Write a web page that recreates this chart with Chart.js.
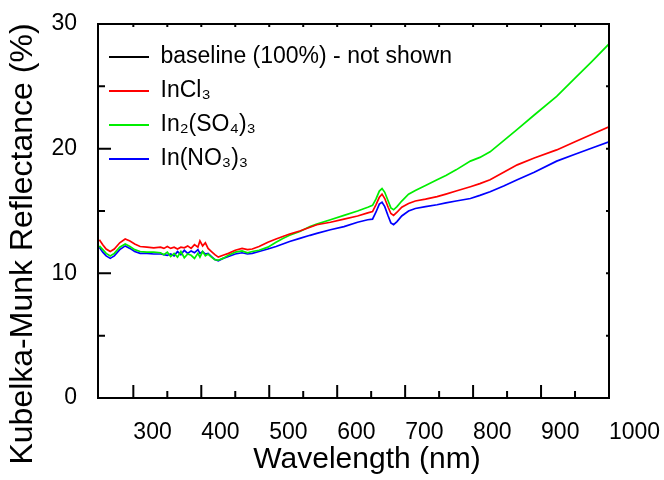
<!DOCTYPE html>
<html>
<head>
<meta charset="utf-8">
<script src="https://cdn.jsdelivr.net/npm/chart.js@4.4.1/dist/chart.umd.min.js"></script>
<style>
  body { margin: 0; background: #fff; }
  #wrap { width: 664px; height: 480px; }
</style>
</head>
<body>
<div id="wrap"><canvas id="chart" width="664" height="480"></canvas></div>
<script>
// wavelength grid (nm), shared by the three spectra
const wavelength = [
  250, 255, 260, 266, 272, 280, 288, 295, 302, 310,
  320, 330, 340, 345, 350, 355, 360, 365, 370, 375,
  380, 385, 390, 395, 398, 402, 406, 410, 415, 420,
  425, 432, 440, 450, 460, 468, 475, 485, 498, 510,
  520, 530, 545, 560, 570, 590, 610, 630, 645, 652,
  657, 662, 666, 670, 675, 679, 683, 688, 695, 705,
  715, 730, 747, 760, 775, 796, 810, 825, 845, 865,
  890, 923, 950, 975, 1000
];

// Kubelka-Munk reflectance (%)
const inCl3 = [
  12.7, 12.3, 11.95, 11.75, 11.95, 12.45, 12.75, 12.6, 12.35, 12.15,
  12.1, 12.05, 12.1, 12.0, 12.15, 12.0, 12.1, 11.95, 12.1, 12.05,
  12.2, 12.0, 12.3, 12.1, 12.6, 12.2, 12.45, 12.0, 11.75, 11.5,
  11.3, 11.45, 11.6, 11.85, 12.0, 11.9, 11.95, 12.15, 12.5, 12.75,
  12.95, 13.15, 13.4, 13.7, 13.9, 14.1, 14.35, 14.6, 14.85, 14.95,
  15.5, 16.1, 16.35, 16.0, 15.3, 14.8, 14.65, 14.9, 15.3, 15.6,
  15.8, 15.95, 16.15, 16.35, 16.6, 16.95, 17.2, 17.5, 18.1, 18.7,
  19.25, 19.9, 20.55, 21.15, 21.75
];
const in2So43 = [
  12.2, 11.9, 11.6, 11.4, 11.6, 12.1, 12.35, 12.15, 11.9, 11.75,
  11.7, 11.7, 11.65, 11.5, 11.7, 11.35, 11.6, 11.3, 11.75, 11.25,
  11.55, 11.45, 11.2, 11.6, 11.3, 11.75, 11.4, 11.55, 11.3, 11.1,
  11.05, 11.2, 11.45, 11.7, 11.8, 11.65, 11.75, 11.85, 12.1, 12.5,
  12.8, 13.05, 13.35, 13.75, 13.95, 14.3, 14.65, 15.0, 15.3, 15.45,
  15.95, 16.6, 16.8, 16.5, 15.8, 15.25, 15.1, 15.35, 15.8, 16.35,
  16.65, 17.05, 17.5, 17.85, 18.3, 19.0, 19.3, 19.75, 20.65, 21.55,
  22.7, 24.2, 25.65, 27.0, 28.4
];
const inNo33 = [
  12.1, 11.7, 11.4, 11.2, 11.4, 11.9, 12.2, 12.0, 11.75, 11.6,
  11.6, 11.55, 11.55, 11.5, 11.45, 11.55, 11.4, 11.75, 11.5, 11.85,
  11.6, 11.8, 11.65, 11.9, 11.6, 11.75, 11.55, 11.6, 11.35, 11.1,
  11.0, 11.2, 11.35, 11.55, 11.65, 11.55, 11.6, 11.75, 11.95, 12.15,
  12.35, 12.55, 12.8, 13.05, 13.2, 13.5, 13.75, 14.1, 14.3, 14.35,
  14.9, 15.55, 15.7, 15.35, 14.6, 14.05, 13.9, 14.15, 14.6, 15.0,
  15.2, 15.35, 15.5, 15.65, 15.8, 16.0, 16.25, 16.55, 17.0, 17.5,
  18.1, 19.0, 19.55, 20.05, 20.55
];

const seriesNames = ['baseline (100%) - not shown', 'InCl₃', 'In₂(SO₄)₃', 'In(NO₃)₃'];
const seriesColors = ['#000000', '#ff0000', '#00ee00', '#0000ff'];

const xMajor = [300, 400, 500, 600, 700, 800, 900, 1000];
const xMinor = [350, 450, 550, 650, 750, 850, 950];
const xTickLabels = ['300', '400', '500', '600', '700', '800', '900', '1000'];
const yMajor = [0, 10, 20, 30];
const yMinor = [5, 15, 25];
const yTickLabels = ['0', '10', '20', '30'];

const xTitle = 'Wavelength (nm)';
const yTitle = 'Kubelka-Munk Reflectance (%)';

const FONT = "'Liberation Sans', Arial, sans-serif";

function toPoints(values) {
  return wavelength.map((w, i) => ({ x: w, y: values[i] }));
}

// box round the plot, inward ticks and the two axis titles
const frameAndTitles = {
  id: 'frameAndTitles',
  afterDraw(chart) {
    const { ctx, chartArea: a, scales: { x, y } } = chart;
    ctx.save();
    ctx.strokeStyle = '#000';
    ctx.lineWidth = 2;
    ctx.strokeRect(a.left, a.top, a.right - a.left, a.bottom - a.top);

    ctx.beginPath();
    xMajor.forEach(v => {
      const px = x.getPixelForValue(v);
      ctx.moveTo(px, a.bottom); ctx.lineTo(px, a.bottom - 13);
      ctx.moveTo(px, a.top); ctx.lineTo(px, a.top + 3);
    });
    xMinor.forEach(v => {
      const px = x.getPixelForValue(v);
      ctx.moveTo(px, a.bottom); ctx.lineTo(px, a.bottom - 7);
      ctx.moveTo(px, a.top); ctx.lineTo(px, a.top + 3);
    });
    yMajor.forEach(v => {
      const py = y.getPixelForValue(v);
      ctx.moveTo(a.left, py); ctx.lineTo(a.left + 13, py);
      ctx.moveTo(a.right, py); ctx.lineTo(a.right - 3, py);
    });
    yMinor.forEach(v => {
      const py = y.getPixelForValue(v);
      ctx.moveTo(a.left, py); ctx.lineTo(a.left + 7, py);
      ctx.moveTo(a.right, py); ctx.lineTo(a.right - 3, py);
    });
    ctx.stroke();

    ctx.fillStyle = '#000';
    ctx.textAlign = 'center';
    ctx.textBaseline = 'middle';
    ctx.font = '30px ' + FONT;
    ctx.fillText(xTitle, 367, 460);

    ctx.translate(23, 244);
    ctx.rotate(-Math.PI / 2);
    ctx.font = '32px ' + FONT;
    ctx.fillText(yTitle, 0, 0);
    ctx.restore();
  }
};

new Chart(document.getElementById('chart'), {
  type: 'line',
  data: {
    datasets: [
      { label: seriesNames[0], data: [], borderColor: seriesColors[0] },
      { label: seriesNames[1], data: toPoints(inCl3), borderColor: seriesColors[1] },
      { label: seriesNames[2], data: toPoints(in2So43), borderColor: seriesColors[2] },
      { label: seriesNames[3], data: toPoints(inNo33), borderColor: seriesColors[3] }
    ]
  },
  options: {
    responsive: false,
    animation: false,
    layout: { padding: { top: 24, right: 55, left: 0, bottom: 0 } },
    elements: {
      point: { radius: 0 },
      line: { borderWidth: 1.7, tension: 0 }
    },
    scales: {
      x: {
        type: 'linear',
        min: 248,
        max: 1000,
        grid: { display: false },
        border: { display: false },
        afterFit(scale) {
          scale.height = 82;
          scale.paddingLeft = 0;
          scale.paddingRight = 0;
        },
        afterBuildTicks(scale) { scale.ticks = xMajor.map(v => ({ value: v })); },
        ticks: {
          align: 'start',
          labelOffset: 0,
          padding: 13,
          color: '#000',
          font: { size: 23, family: FONT },
          maxRotation: 0,
          autoSkip: false,
          callback: (v, i) => xTickLabels[i]
        }
      },
      y: {
        min: 0,
        max: 30,
        grid: { display: false },
        border: { display: false },
        afterFit(scale) {
          scale.width = 98;
          scale.paddingTop = 0;
          scale.paddingBottom = 0;
        },
        afterBuildTicks(scale) { scale.ticks = yMajor.map(v => ({ value: v })); },
        ticks: {
          padding: 13,
          color: '#000',
          font: { size: 23, family: FONT },
          callback: (v, i) => yTickLabels[i]
        }
      }
    },
    plugins: {
      tooltip: { enabled: false },
      legend: {
        position: 'chartArea',
        align: 'start',
        title: { display: true, text: ' ', padding: 10, font: { size: 12 } },
        labels: {
          color: '#000',
          font: { size: 23, family: FONT },
          boxWidth: 40,
          boxHeight: 2,
          padding: 11,
          generateLabels(chart) {
            return chart.data.datasets.map((ds, i) => ({
              text: ds.label,
              fillStyle: ds.borderColor,
              strokeStyle: ds.borderColor,
              lineWidth: 0,
              fontColor: '#000',
              hidden: false,
              datasetIndex: i
            }));
          }
        }
      }
    }
  },
  plugins: [frameAndTitles]
});
</script>
</body>
</html>
